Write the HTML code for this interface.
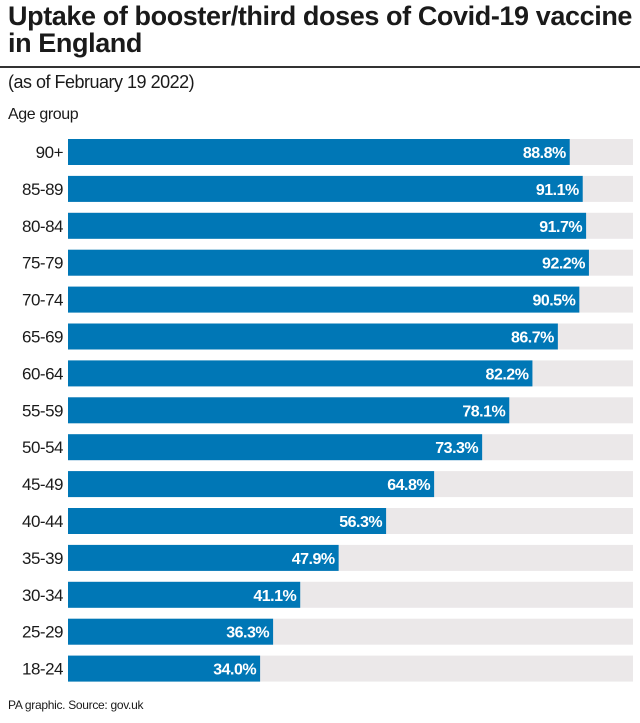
<!DOCTYPE html>
<html><head><meta charset="utf-8"><style>
body{margin:0;width:640px;height:723px;background:#fff;font-family:"Liberation Sans",sans-serif;color:#1a1a1a;position:relative;overflow:hidden}
.t{position:absolute;left:8px;top:3px;font-size:27px;font-weight:bold;line-height:27px;letter-spacing:-0.4px;width:640px;white-space:nowrap}
.rule{position:absolute;left:0;top:66px;width:640px;height:2px;background:#333}
.sub{position:absolute;left:8px;top:72px;font-size:18px;letter-spacing:-0.5px}
.ag{position:absolute;left:8px;top:106px;font-size:16px;letter-spacing:-0.4px}
.foot{position:absolute;left:8px;top:698px;font-size:12px;letter-spacing:-0.3px}
</style></head><body>
<div class="t">Uptake of booster/third doses of Covid-19 vaccine<br>in England</div>
<div class="rule"></div>
<div class="sub">(as of February 19 2022)</div>
<div class="ag">Age group</div>
<svg id="c" width="640" height="723" style="position:absolute;left:0;top:0"></svg>
<div class="foot">PA graphic. Source: gov.uk</div>
<script>
const categories=["90+","85-89","80-84","75-79","70-74","65-69","60-64","55-59","50-54","45-49","40-44","35-39","30-34","25-29","18-24"];
const values=[88.8,91.1,91.7,92.2,90.5,86.7,82.2,78.1,73.3,64.8,56.3,47.9,41.1,36.3,34.0];
const valueLabels=["88.8%","91.1%","91.7%","92.2%","90.5%","86.7%","82.2%","78.1%","73.3%","64.8%","56.3%","47.9%","41.1%","36.3%","34.0%"];
const svg=document.getElementById('c'),NS="http://www.w3.org/2000/svg";
const x0=68,W=565,top0=139,pitch=36.9,bh=26;
const xs=v=>W*v/100;
function mk(t,a){const e=document.createElementNS(NS,t);for(const k in a)e.setAttribute(k,a[k]);svg.appendChild(e);return e;}
categories.forEach((c,i)=>{
 const y=top0+i*pitch;
 const bg=mk('rect',{x:x0,y:y,width:W,height:bh,fill:'#ebe8e9'});
 
 
 const b=mk('rect',{x:x0,y:y,width:xs(values[i]),height:bh,fill:'#0077b6'});
 
 
 const l=mk('text',{x:63,y:y+19,'text-anchor':'end','font-size':17,fill:'#1a1a1a','letter-spacing':'-0.5'});
 l.textContent=c;
 
 
 const v=mk('text',{x:x0+xs(values[i])-4,y:y+19,'text-anchor':'end','font-size':16,'font-weight':'bold',fill:'#fff','letter-spacing':'-0.5'});
 v.textContent=valueLabels[i];
 
 
});
</script>
</body></html>
